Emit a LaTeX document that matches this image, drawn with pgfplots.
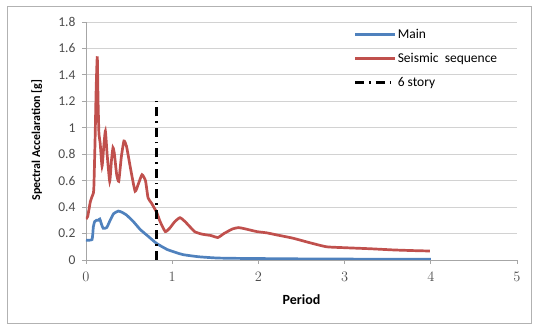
\documentclass[border=0pt]{standalone}
\usepackage{pgfplots}
\pgfplotsset{compat=1.18}
\usepackage{fontspec}
\setmainfont{Carlito}
\definecolor{exblue}{HTML}{4F81BD}
\definecolor{exred}{HTML}{C0504D}
\begin{document}
\begin{tikzpicture}
\useasboundingbox (-86pt,-66pt) rectangle (447pt,260pt);
\draw[gray!60, line width=0.8pt] (-79pt,-63pt) rectangle (445pt,254pt);
\begin{axis}[
  at={(0pt,0pt)}, anchor=south west,
  scale only axis, width=431pt, height=238pt,
  xmin=0, xmax=5, ymin=0, ymax=1.8,
  xtick={0,1,2,3,4,5},
  ytick={0,0.2,0.4,0.6,0.8,1,1.2,1.4,1.6,1.8},
  yticklabels={0,0.2,0.4,0.6,0.8,1,1.2,1.4,1.6,1.8},
  axis x line*=bottom, axis y line*=left,
  axis line style={gray!70, line width=0.8pt, -},
  ymajorgrids, major grid style={gray!35, line width=0.8pt},
  tick style={gray!70, line width=0.8pt},
  tick align=outside, major tick length=4pt,
  tick label style={font=\fontsize{13.5}{15}\selectfont, text=black!70},
  xticklabel style={yshift=-5pt},
  yticklabel style={xshift=-3pt},
  xlabel={\textbf{Period}},
  xlabel style={at={(axis description cs:0.5,-0.168)}, anchor=center, font=\fontsize{14}{16}\selectfont},
  ylabel={\textbf{Spectral Accelaration [g]}},
  ylabel style={at={(axis description cs:-0.114,0.504)}, anchor=center, font=\fontsize{12}{14}\selectfont},
  legend cell align=left,
  legend style={at={(axis description cs:0.619,0.98)}, anchor=north west, draw=none, fill=none,
    font=\fontsize{13.5}{15}\selectfont, row sep=11.5pt, inner sep=1pt,
    nodes={inner sep=1pt}},
  legend image code/.code={\draw[#1] (0pt,0pt) -- (40pt,0pt);},
]
\addplot[exblue, line width=2.7pt, smooth, tension=0.3] coordinates {
(0,0.15) (0.07,0.155) (0.085,0.25) (0.10,0.29) (0.12,0.30) (0.14,0.30) (0.16,0.31)
(0.18,0.27) (0.20,0.24) (0.24,0.245) (0.28,0.30) (0.32,0.35) (0.375,0.37) (0.42,0.36)
(0.47,0.34) (0.55,0.29) (0.63,0.23) (0.72,0.18) (0.82,0.125) (0.94,0.08) (1.05,0.055)
(1.13,0.04) (1.3,0.025) (1.52,0.015) (1.8,0.012) (2.2,0.01) (2.6,0.008) (3.0,0.007)
(3.5,0.006) (4.0,0.005)
};
\addlegendentry{Main}
\addplot[exred, line width=2.7pt, smooth, tension=0.3] coordinates {
(0,0.31) (0.02,0.33) (0.05,0.44) (0.07,0.48) (0.09,0.53) (0.105,0.9) (0.118,1.3)
(0.131,1.54) (0.14,1.2) (0.15,0.96) (0.165,0.88) (0.186,0.71) (0.205,0.85) (0.225,0.975)
(0.245,0.8) (0.275,0.595) (0.295,0.75) (0.313,0.85) (0.33,0.8) (0.355,0.65) (0.38,0.595)
(0.41,0.78) (0.44,0.90) (0.47,0.86) (0.52,0.68) (0.57,0.52) (0.61,0.58) (0.65,0.645)
(0.69,0.6) (0.72,0.47) (0.76,0.43) (0.82,0.36) (0.86,0.29) (0.92,0.215) (0.97,0.24)
(1.03,0.29) (1.09,0.32) (1.15,0.29) (1.26,0.215) (1.35,0.195) (1.45,0.185) (1.53,0.17)
(1.6,0.2) (1.7,0.235) (1.77,0.245) (1.85,0.235) (1.98,0.215) (2.1,0.205) (2.21,0.19)
(2.4,0.165) (2.6,0.13) (2.79,0.10) (3.0,0.093) (3.3,0.085) (3.57,0.076) (3.8,0.071)
(3.99,0.068)
};
\addlegendentry{Seismic~ sequence}
\addplot[black, line width=2.8pt, dash pattern=on 9pt off 5pt on 1.5pt off 5pt] coordinates {(0.82,0) (0.82,1.2)};
\addlegendentry{6 story}
\end{axis}
\end{tikzpicture}
\end{document}
